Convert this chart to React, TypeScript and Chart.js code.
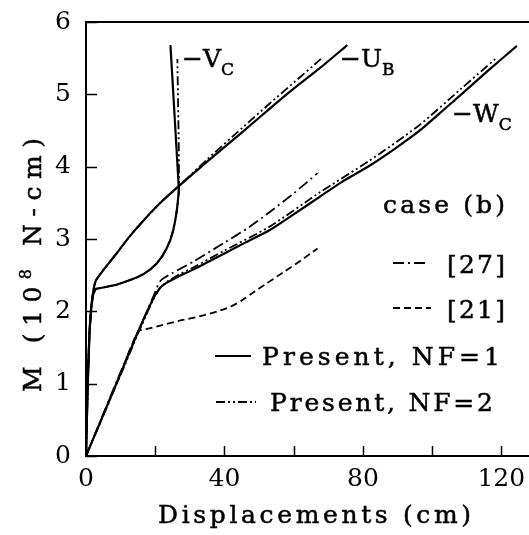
import React, { useEffect, useRef } from "react";
import { Chart, registerables } from "chart.js";

Chart.register(...registerables);

type Pt = [number, number];

// Moment M (10^8 N-cm) against displacement (cm), case (b)
const vcPresentNF1: Pt[] = [
  [0, 0], [0.5, 1.0], [1.0, 1.7], [1.5, 2.05], [2.1, 2.24], [2.8, 2.31], [5, 2.33], [7, 2.35],
  [9, 2.37], [12, 2.42], [14.8, 2.47], [16.8, 2.52], [18.6, 2.58], [20.4, 2.66], [22, 2.76],
  [23.3, 2.87], [24.4, 2.99], [25.2, 3.12], [25.8, 3.26], [26.2, 3.38], [26.5, 3.5], [26.7, 3.61],
  [26.8, 3.72], [24.4, 5.68],
];
const vcPresentNF2: Pt[] = [
  [0, 0], [0.5, 1.0], [1.0, 1.7], [1.5, 2.05], [2.1, 2.24], [2.8, 2.31], [5, 2.33], [7, 2.35],
  [9, 2.37], [12, 2.42], [14.8, 2.47], [16.8, 2.52], [18.6, 2.58], [20.4, 2.66], [22, 2.76],
  [23.3, 2.87], [24.4, 2.99], [25.2, 3.12], [25.8, 3.26], [26.2, 3.38], [26.5, 3.5], [26.7, 3.61],
  [26.9, 3.74], [26.8, 4.3], [26.6, 4.9], [26.4, 5.49],
];
const ubPresentNF1: Pt[] = [
  [0, 0], [0.5, 1.0], [1.0, 1.7], [1.5, 2.05], [2.1, 2.28], [2.8, 2.42], [5, 2.57], [9, 2.81],
  [12.5, 3.03], [16.7, 3.26], [21.5, 3.5], [26.8, 3.73], [35, 4.07], [45, 4.47], [53, 4.8],
  [60, 5.08], [68, 5.38], [75.5, 5.68],
];
const ubPresentNF2: Pt[] = [
  [0, 0], [0.5, 1.0], [1.0, 1.7], [1.5, 2.05], [2.1, 2.28], [2.8, 2.42], [5, 2.57], [9, 2.81],
  [12.5, 3.03], [16.7, 3.26], [21.5, 3.5], [26.8, 3.73], [35, 4.1], [45, 4.53], [53, 4.87],
  [60, 5.16], [67.9, 5.49],
];
const wcPresentNF1: Pt[] = [
  [0, 0], [5, 0.57], [10, 1.14], [15.06, 1.72], [17.6, 1.99], [19.6, 2.19], [21.5, 2.33],
  [23.5, 2.4], [27, 2.49], [31.1, 2.58], [40, 2.8], [46, 2.95], [53, 3.12], [60, 3.34],
  [67.4, 3.58], [74, 3.79], [81.8, 4.01], [89, 4.24], [96.2, 4.49], [102, 4.73], [108.2, 4.99],
  [116, 5.32], [124.5, 5.67],
];
const wcPresentNF2: Pt[] = [
  [0, 0], [5, 0.56], [10, 1.12], [15, 1.69], [17.6, 1.97], [19.6, 2.18], [21.5, 2.33],
  [23.5, 2.41], [27, 2.51], [31.1, 2.61], [40, 2.84], [53, 3.17], [67.4, 3.64], [81.8, 4.08],
  [96.2, 4.57], [108.2, 5.07], [118.3, 5.49],
];
const wcRef27: Pt[] = [
  [0, 0], [10, 1.16], [19.6, 2.22], [21.5, 2.42], [25, 2.53], [31.1, 2.69], [40, 2.95],
  [47, 3.16], [53, 3.37], [60, 3.63], [66.9, 3.91],
];
const wcRef21: Pt[] = [
  [0, 0], [10, 1.14], [15.06, 1.72], [18, 1.76], [22, 1.81], [27, 1.87], [32.8, 1.93],
  [38, 2.0], [42, 2.07], [45, 2.15], [48, 2.25], [52, 2.38], [57, 2.54], [62, 2.7], [66.9, 2.87],
];

const xTicks = [0, 20, 40, 60, 80, 100, 120];
const xLabelled = [0, 40, 80, 120];
const yTicks = [0, 1, 2, 3, 4, 5, 6];

const xTitle = "Displacements (cm)";
const caseLabel = "case (b)";
const legendLabels = ["[27]", "[21]", "Present, NF=1", "Present, NF=2"];

const FONT = '"DejaVu Serif", "Liberation Serif", serif';
const INK = "#000";
const TEXT_SIZE = 25;
const DASH_27 = [11, 4, 2, 4];
const DASH_21 = [7, 4];
const DASH_NF2 = [9, 3, 2, 3, 2, 3];

const toXY = (pts: Pt[]) => pts.map(([x, y]) => ({ x, y }));

type Ctx = CanvasRenderingContext2D;

// draw text one glyph at a time so the inter-letter spacing can be stretched to a width
function glyphWidth(ctx: Ctx, text: string, size: number) {
  ctx.font = `${size}px ${FONT}`;
  let w = 0;
  for (const ch of Array.from(text)) w += ctx.measureText(ch).width;
  return w;
}
function drawSpaced(ctx: Ctx, text: string, x: number, y: number, size: number, spacing: number) {
  ctx.font = `${size}px ${FONT}`;
  ctx.lineWidth = 0.5;
  let cx = x;
  for (const ch of Array.from(text)) {
    ctx.fillText(ch, cx, y);
    ctx.strokeText(ch, cx, y);
    cx += ctx.measureText(ch).width + spacing;
  }
  return cx;
}
function drawFitted(ctx: Ctx, text: string, left: number, baseline: number, size: number, width: number) {
  const n = Array.from(text).length;
  const sp = n > 1 ? Math.max(0, (width - glyphWidth(ctx, text, size)) / (n - 1)) : 0;
  drawSpaced(ctx, text, left, baseline, size, sp);
}

function sampleLine(ctx: Ctx, x1: number, x2: number, y: number, dash: number[], w: number) {
  ctx.save();
  ctx.strokeStyle = INK;
  ctx.lineWidth = w;
  ctx.setLineDash(dash);
  ctx.beginPath();
  ctx.moveTo(x1, y);
  ctx.lineTo(x2, y);
  ctx.stroke();
  ctx.restore();
}

const decor = {
  id: "decor",
  afterDraw(chart: Chart) {
    const ctx = chart.ctx as Ctx;
    const { left, right, top, bottom } = chart.chartArea;
    const xs = chart.scales.x;
    const ys = chart.scales.y;
    ctx.save();
    ctx.fillStyle = INK;
    ctx.strokeStyle = INK;
    ctx.textAlign = "left";
    ctx.textBaseline = "alphabetic";

    // top frame
    ctx.lineWidth = 2;
    ctx.beginPath();
    ctx.moveTo(left - 1, top);
    ctx.lineTo(right, top);
    ctx.stroke();

    // inward tick marks
    ctx.lineWidth = 1.5;
    ctx.beginPath();
    for (const v of xTicks) {
      const px = Math.round(xs.getPixelForValue(v)) + 0.5;
      ctx.moveTo(px, bottom);
      ctx.lineTo(px, bottom - 10);
    }
    for (const v of yTicks) {
      const py = Math.round(ys.getPixelForValue(v)) + 0.5;
      ctx.moveTo(left, py);
      ctx.lineTo(left + 11, py);
    }
    ctx.stroke();

    // x-axis title
    drawFitted(ctx, xTitle, 158, 523, TEXT_SIZE, 313);

    // y-axis title, rotated, with superscript exponent
    ctx.save();
    ctx.translate(41, 265);
    ctx.rotate(-Math.PI / 2);
    const runs = [
      { t: "M (10", s: TEXT_SIZE, rise: 0 },
      { t: "8", s: 16, rise: 10 },
      { t: " N-cm)", s: TEXT_SIZE, rise: 0 },
    ];
    const nChars = runs.reduce((n, r) => n + Array.from(r.t).length, 0);
    const natural = runs.reduce((w, r) => w + glyphWidth(ctx, r.t, r.s), 0);
    const total = 254;
    const sp = Math.max(0, (total - natural) / (nChars - 1));
    let cx = -total / 2;
    for (const r of runs) cx = drawSpaced(ctx, r.t, cx, -r.rise, r.s, sp);
    ctx.restore();

    // curve labels
    const curveLabel = (main: string, sub: string, x: number, y: number) => {
      const end = drawSpaced(ctx, main, x, y, TEXT_SIZE, 0);
      drawSpaced(ctx, sub, end, y + 8, 17, 0);
    };
    curveLabel("\u2212V", "C", 182, 67);
    curveLabel("\u2212U", "B", 340, 67);
    curveLabel("\u2212W", "C", 452, 122);

    // legend block
    drawFitted(ctx, caseLabel, 383, 213, TEXT_SIZE, 122);
    sampleLine(ctx, 393, 428, 263, DASH_27, 1.8);
    drawFitted(ctx, legendLabels[0], 447, 273, TEXT_SIZE, 58);
    sampleLine(ctx, 393, 431, 308, DASH_21, 1.8);
    drawFitted(ctx, legendLabels[1], 447, 318, TEXT_SIZE, 58);
    sampleLine(ctx, 215, 251, 356, [], 2);
    drawFitted(ctx, legendLabels[2], 262, 365, TEXT_SIZE, 238);
    sampleLine(ctx, 216, 256, 402, DASH_NF2, 2);
    drawFitted(ctx, legendLabels[3], 270, 411, TEXT_SIZE, 223);

    ctx.restore();
  },
};

function series(pts: Pt[], dash: number[], width: number, tension: number) {
  return {
    data: toXY(pts),
    showLine: true,
    borderColor: INK,
    backgroundColor: INK,
    borderWidth: width,
    borderDash: dash,
    pointRadius: 0,
    tension,
    fill: false,
    borderCapStyle: "butt" as const,
    borderJoinStyle: "round" as const,
  };
}

export default function App() {
  const ref = useRef<HTMLCanvasElement | null>(null);

  useEffect(() => {
    if (!ref.current) return;
    const chart = new Chart(ref.current, {
      type: "scatter",
      data: {
        datasets: [
          series(wcRef21, DASH_21, 1.8, 0.25),
          series(wcRef27, DASH_27, 1.8, 0.25),
          series(vcPresentNF2, DASH_NF2, 1.8, 0),
          series(ubPresentNF2, DASH_NF2, 1.8, 0.2),
          series(wcPresentNF2, DASH_NF2, 1.8, 0.25),
          series(vcPresentNF1, [], 2.2, 0),
          series(ubPresentNF1, [], 2.2, 0.2),
          series(wcPresentNF1, [], 2.2, 0.25),
        ],
      },
      options: {
        responsive: false,
        animation: false,
        events: [],
        layout: { padding: { top: 16, left: 0, right: 0, bottom: 0 } },
        plugins: { legend: { display: false }, tooltip: { enabled: false } },
        scales: {
          x: {
            type: "linear",
            min: 0,
            max: 128,
            afterFit: (s: any) => {
              s.height = 79;
            },
            afterBuildTicks: (s: any) => {
              s.ticks = xTicks.map((v) => ({ value: v }));
            },
            ticks: {
              includeBounds: false,
              autoSkip: false,
              maxRotation: 0,
              padding: 0,
              color: INK,
              font: { family: FONT, size: 25 },
              callback: (v: any) => (xLabelled.includes(Number(v)) ? String(v) : ""),
            },
            grid: { display: false },
            border: { display: true, color: INK, width: 2 },
          },
          y: {
            type: "linear",
            min: 0,
            max: 6,
            afterFit: (s: any) => {
              s.width = 86;
            },
            ticks: {
              stepSize: 1,
              padding: 7,
              color: INK,
              font: { family: FONT, size: 25 },
            },
            grid: { display: false },
            border: { display: true, color: INK, width: 2 },
          },
        },
      },
      plugins: [decor],
    });
    return () => chart.destroy();
  }, []);

  return (
    <div style={{ position: "fixed", left: 0, top: 0, width: 529, height: 535, background: "#fff" }}>
      <canvas ref={ref} width={529} height={535} style={{ display: "block" }} />
    </div>
  );
}
